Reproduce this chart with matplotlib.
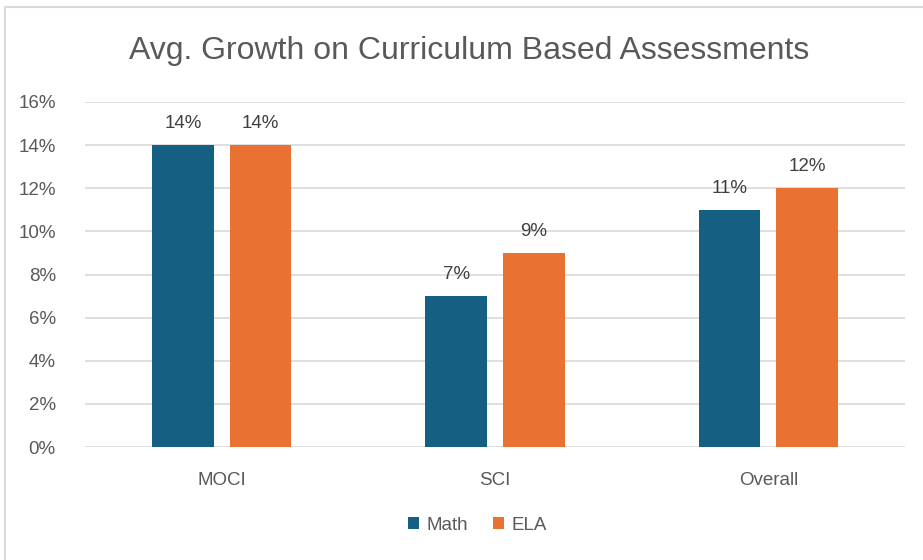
import matplotlib.pyplot as plt
import numpy as np
from matplotlib.patches import Rectangle
from matplotlib.ticker import FuncFormatter

categories = ["MOCI", "SCI", "Overall"]
math_vals = [14, 7, 11]
ela_vals = [14, 9, 12]
series_names = ["Math", "ELA"]
colors = ["#156082", "#E97132"]

plt.rcParams['font.family'] = ['Liberation Sans', 'DejaVu Sans']

fig = plt.figure(figsize=(9.23, 5.6), dpi=100)
# chart frame (cropped on right and bottom)
fig.patches.append(Rectangle((5 / 923, -0.1), 1.2, (560 - 7) / 560 + 0.1,
                             transform=fig.transFigure, fill=False,
                             edgecolor="#D9D9D9", linewidth=1.5))

ax = fig.add_axes([85 / 923, 1 - 447 / 560, 820 / 923, 345 / 560])
x = np.arange(len(categories))
w = 0.226
off = 0.142
bars = []
for i, (vals, c) in enumerate(zip([math_vals, ela_vals], colors)):
    b = ax.bar(x + (-off if i == 0 else off), vals, width=w, color=c,
               label=series_names[i], zorder=3)
    bars.append(b)
    for rect, v in zip(b, vals):
        ax.text(rect.get_x() + rect.get_width() / 2, v + 0.6, f"{v}%",
                ha="center", va="bottom", fontsize=13.5, color="#404040")

ax.set_xlim(-0.5, 2.5)
ax.set_ylim(0, 16)
ax.set_yticks(range(0, 17, 2))
ax.yaxis.set_major_formatter(FuncFormatter(lambda v, p: f"{int(v)}%"))
ax.grid(axis="y", color="#D9D9D9", linewidth=1.2, zorder=0)
ax.set_xticks(x)
ax.set_xticklabels(categories)
for s in ax.spines.values():
    s.set_visible(False)
ax.tick_params(axis="both", length=0, labelsize=13.5, colors="#595959")
ax.tick_params(axis="x", pad=18)
ax.tick_params(axis="y", pad=21)

fig.text(0.508, 0.909, "Avg. Growth on Curriculum Based Assessments",
         ha="center", va="center", fontsize=23, color="#595959")

fig.legend(handles=bars, labels=series_names, loc="center",
           bbox_to_anchor=(0.517, 1 - 525 / 560), ncol=2, frameon=False,
           fontsize=13.5, labelcolor="#595959", handlelength=0.6,
           handleheight=0.6, handletextpad=0.4, columnspacing=1.3)

fig.savefig("out.png", dpi=100)
